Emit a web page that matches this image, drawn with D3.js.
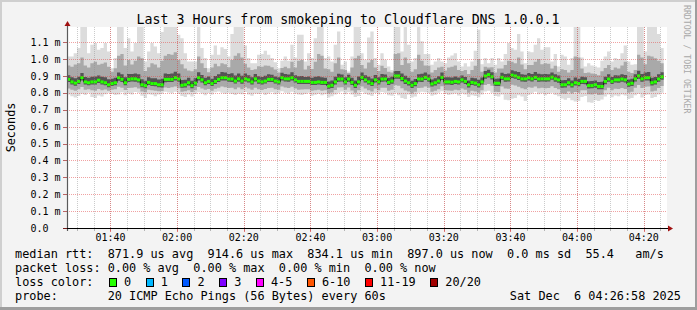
<!DOCTYPE html>
<html><head><meta charset="utf-8">
<script src="https://cdn.jsdelivr.net/npm/d3@7"></script>
<style>
body{margin:0;background:#f3f3f3}
svg{display:block}
text{font-family:"DejaVu Sans Mono",monospace;fill:#000}
</style>
</head><body>
<svg id="chart" width="697" height="310"></svg>
<script>
// ---------------- data ----------------
const startTime = new Date(2025, 11, 6, 1, 26, 58);
const endTime = new Date(2025, 11, 6, 4, 26, 58);
const stepSeconds = 60;

const medianRtt = [
0.880,0.865,0.858,0.868,0.890,0.865,0.860,0.865,0.865,0.875,
0.865,0.860,0.848,0.855,0.860,0.890,0.880,0.860,0.880,0.883,
0.883,0.877,0.848,0.843,0.862,0.855,0.855,0.848,0.848,0.880,
0.880,0.880,0.890,0.882,0.845,0.848,0.860,0.843,0.858,0.890,
0.877,0.860,0.868,0.855,0.868,0.880,0.890,0.890,0.882,0.882,
0.870,0.883,0.870,0.883,0.877,0.865,0.883,0.870,0.865,0.870,
0.880,0.880,0.870,0.865,0.890,0.883,0.883,0.890,0.877,0.868,
0.868,0.868,0.868,0.862,0.862,0.865,0.862,0.862,0.840,0.845,
0.865,0.882,0.882,0.865,0.882,0.862,0.845,0.865,0.892,0.877,
0.865,0.855,0.877,0.865,0.882,0.882,0.862,0.870,0.900,0.900,
0.885,0.870,0.860,0.845,0.855,0.882,0.882,0.892,0.882,0.853,
0.860,0.870,0.892,0.865,0.865,0.863,0.868,0.865,0.877,0.868,
0.848,0.862,0.858,0.848,0.865,0.900,0.908,0.895,0.857,0.857,
0.892,0.883,0.883,0.905,0.900,0.892,0.883,0.883,0.890,0.883,
0.892,0.882,0.883,0.883,0.883,0.893,0.883,0.877,0.848,0.848,
0.860,0.848,0.860,0.855,0.868,0.868,0.843,0.843,0.848,0.838,
0.838,0.868,0.882,0.868,0.877,0.877,0.882,0.877,0.852,0.857,
0.883,0.900,0.883,0.890,0.890,0.860,0.865,0.882,0.895];

const maxRtt = [
1.015,1.015,1.035,1.065,1.190,1.190,1.035,1.085,1.095,1.055,
1.065,1.095,1.045,0.946,1.006,1.190,1.190,1.065,1.124,1.045,
1.095,1.190,1.190,0.986,1.045,1.095,1.075,1.035,1.160,1.190,
1.190,1.190,1.190,1.144,1.124,1.035,0.986,0.986,0.986,1.190,
1.065,1.006,0.946,1.026,1.080,1.026,1.070,1.060,1.015,1.148,
1.190,1.190,1.190,1.080,1.006,0.976,0.976,1.026,1.030,1.050,
1.026,1.006,0.982,0.946,0.990,1.015,0.990,1.085,1.010,1.144,
1.144,0.986,1.035,1.006,1.124,1.190,1.190,1.006,1.015,0.986,
1.085,1.163,0.966,0.986,0.926,1.015,1.190,1.190,1.035,0.996,
1.128,1.163,1.006,0.966,1.035,0.996,0.956,0.936,1.190,1.190,
1.045,1.190,1.085,0.986,1.006,1.190,1.105,1.030,1.030,0.966,
0.986,1.006,0.986,0.976,1.010,1.022,1.035,0.986,0.956,0.976,
0.956,0.986,1.050,1.173,0.970,1.006,0.976,1.006,0.966,1.006,
0.986,1.030,1.095,1.065,1.055,1.148,1.045,0.976,1.045,1.040,
1.085,1.124,1.055,1.070,1.070,0.986,1.030,0.956,1.026,1.015,
0.966,1.006,1.190,1.190,1.010,0.956,0.976,0.962,0.956,0.950,
0.990,1.015,1.045,0.986,1.006,1.000,1.035,1.080,0.986,0.966,
0.970,1.190,1.190,1.045,1.190,1.190,1.190,1.148,1.065];

const p90Rtt = [
0.962,0.955,0.968,0.975,1.010,0.962,0.950,0.975,0.985,0.966,
0.972,0.980,0.955,0.925,0.946,1.020,1.030,0.962,0.995,0.968,
0.990,1.015,1.005,0.930,0.952,0.975,0.968,0.950,0.990,1.020,
1.030,1.025,1.040,0.995,0.970,0.945,0.932,0.928,0.940,1.015,
0.975,0.948,0.922,0.950,0.972,0.958,0.975,0.970,0.952,0.995,
1.020,1.035,1.010,0.972,0.950,0.935,0.940,0.958,0.955,0.962,
0.960,0.952,0.938,0.920,0.948,0.955,0.946,0.985,0.950,0.990,
0.995,0.938,0.960,0.942,0.985,1.030,1.020,0.945,0.940,0.925,
0.975,1.010,0.940,0.935,0.918,0.950,1.005,1.020,0.965,0.945,
0.980,0.995,0.950,0.930,0.960,0.948,0.925,0.920,1.030,1.035,
0.965,1.010,0.975,0.925,0.940,1.025,0.990,0.962,0.960,0.920,
0.935,0.950,0.955,0.932,0.950,0.955,0.962,0.935,0.930,0.935,
0.912,0.935,0.960,1.000,0.925,0.955,0.950,0.952,0.920,0.945,
0.945,0.965,0.990,0.985,0.975,1.010,0.968,0.940,0.965,0.965,
0.985,1.000,0.970,0.975,0.972,0.945,0.960,0.925,0.940,0.935,
0.920,0.935,1.015,1.010,0.945,0.918,0.920,0.915,0.912,0.905,
0.928,0.948,0.965,0.935,0.950,0.945,0.962,0.985,0.925,0.918,
0.935,1.025,1.010,0.970,1.020,1.015,1.005,0.990,0.975];

const p75Rtt = [
0.905,0.892,0.887,0.896,0.918,0.894,0.890,0.896,0.897,0.903,
0.895,0.893,0.880,0.883,0.889,0.921,0.910,0.893,0.912,0.912,
0.915,0.910,0.881,0.872,0.893,0.886,0.887,0.879,0.884,0.915,
0.912,0.914,0.925,0.914,0.876,0.877,0.889,0.872,0.887,0.922,
0.906,0.890,0.897,0.884,0.900,0.911,0.923,0.921,0.912,0.916,
0.903,0.915,0.902,0.914,0.905,0.893,0.912,0.899,0.894,0.901,
0.910,0.908,0.897,0.892,0.919,0.912,0.909,0.922,0.905,0.899,
0.900,0.894,0.897,0.890,0.895,0.898,0.893,0.889,0.868,0.874,
0.896,0.913,0.909,0.893,0.908,0.889,0.874,0.897,0.921,0.905,
0.896,0.885,0.906,0.893,0.912,0.909,0.889,0.896,0.930,0.929,
0.914,0.902,0.889,0.872,0.882,0.911,0.913,0.920,0.909,0.879,
0.887,0.898,0.920,0.892,0.893,0.891,0.897,0.891,0.903,0.894,
0.874,0.889,0.886,0.877,0.891,0.929,0.937,0.922,0.884,0.885,
0.919,0.912,0.915,0.934,0.928,0.923,0.911,0.908,0.918,0.912,
0.923,0.913,0.910,0.912,0.911,0.921,0.910,0.903,0.875,0.876,
0.887,0.874,0.891,0.883,0.895,0.893,0.869,0.870,0.874,0.864,
0.866,0.896,0.910,0.894,0.905,0.903,0.911,0.906,0.879,0.884,
0.910,0.931,0.912,0.920,0.923,0.889,0.894,0.911,0.922];

const p25Rtt = [
0.864,0.849,0.842,0.852,0.873,0.850,0.845,0.850,0.849,0.858,
0.850,0.845,0.834,0.840,0.845,0.872,0.864,0.845,0.864,0.867,
0.866,0.861,0.833,0.828,0.846,0.840,0.839,0.833,0.832,0.863,
0.864,0.865,0.873,0.866,0.830,0.832,0.844,0.828,0.842,0.873,
0.861,0.845,0.852,0.840,0.853,0.864,0.873,0.874,0.866,0.865,
0.855,0.866,0.854,0.867,0.861,0.849,0.867,0.854,0.850,0.855,
0.864,0.865,0.855,0.850,0.873,0.867,0.866,0.874,0.861,0.852,
0.853,0.852,0.853,0.846,0.847,0.850,0.846,0.847,0.824,0.829,
0.849,0.866,0.867,0.850,0.866,0.847,0.829,0.849,0.876,0.861,
0.849,0.840,0.861,0.849,0.866,0.867,0.846,0.854,0.884,0.883,
0.869,0.853,0.844,0.829,0.839,0.866,0.865,0.876,0.866,0.837,
0.844,0.854,0.876,0.849,0.850,0.847,0.852,0.849,0.861,0.852,
0.832,0.846,0.842,0.832,0.849,0.884,0.891,0.879,0.841,0.840,
0.876,0.866,0.867,0.888,0.884,0.876,0.867,0.866,0.874,0.867,
0.876,0.866,0.867,0.866,0.867,0.877,0.866,0.860,0.831,0.832,
0.844,0.832,0.843,0.839,0.852,0.851,0.826,0.827,0.831,0.821,
0.822,0.851,0.866,0.852,0.861,0.860,0.866,0.861,0.836,0.841,
0.867,0.883,0.866,0.874,0.873,0.843,0.849,0.866,0.878];

const p10Rtt = [
0.826,0.818,0.812,0.821,0.835,0.819,0.822,0.815,0.812,0.823,
0.816,0.820,0.812,0.818,0.821,0.836,0.830,0.817,0.829,0.831,
0.834,0.826,0.808,0.803,0.819,0.815,0.812,0.810,0.811,0.832,
0.829,0.833,0.838,0.828,0.806,0.809,0.815,0.805,0.816,0.835,
0.826,0.818,0.823,0.812,0.825,0.831,0.838,0.834,0.829,0.830,
0.822,0.832,0.821,0.833,0.826,0.818,0.830,0.822,0.817,0.823,
0.829,0.831,0.822,0.818,0.838,0.832,0.829,0.836,0.826,0.819,
0.820,0.822,0.821,0.813,0.815,0.818,0.812,0.816,0.797,0.802,
0.817,0.832,0.834,0.818,0.832,0.814,0.801,0.815,0.838,0.826,
0.815,0.808,0.826,0.816,0.830,0.831,0.813,0.819,0.845,0.842,
0.828,0.814,0.808,0.796,0.806,0.829,0.831,0.838,0.830,0.806,
0.812,0.821,0.839,0.816,0.814,0.813,0.819,0.816,0.826,0.818,
0.800,0.813,0.808,0.800,0.815,0.846,0.852,0.842,0.806,0.805,
0.838,0.826,0.824,0.848,0.843,0.836,0.827,0.822,0.834,0.830,
0.838,0.828,0.831,0.828,0.829,0.839,0.829,0.822,0.797,0.795,
0.808,0.796,0.805,0.800,0.815,0.816,0.792,0.790,0.797,0.787,
0.789,0.815,0.830,0.816,0.824,0.823,0.829,0.823,0.801,0.806,
0.830,0.846,0.829,0.836,0.837,0.808,0.813,0.829,0.841];

const minRtt = [
0.790,0.780,0.772,0.781,0.795,0.788,0.800,0.776,0.770,0.784,
0.779,0.792,0.801,0.795,0.788,0.790,0.804,0.786,0.797,0.791,
0.805,0.800,0.783,0.770,0.792,0.789,0.780,0.791,0.795,0.807,
0.802,0.798,0.806,0.794,0.781,0.775,0.790,0.778,0.793,0.803,
0.797,0.786,0.799,0.791,0.803,0.808,0.801,0.795,0.800,0.794,
0.788,0.796,0.792,0.805,0.790,0.783,0.797,0.793,0.801,0.787,
0.796,0.803,0.792,0.798,0.809,0.801,0.795,0.806,0.797,0.790,
0.788,0.794,0.800,0.783,0.789,0.795,0.786,0.792,0.773,0.780,
0.790,0.801,0.808,0.792,0.804,0.790,0.776,0.781,0.806,0.795,
0.788,0.782,0.799,0.790,0.805,0.800,0.786,0.783,0.800,0.786,
0.770,0.763,0.790,0.772,0.779,0.800,0.806,0.803,0.798,0.783,
0.789,0.800,0.809,0.795,0.788,0.792,0.797,0.785,0.798,0.790,
0.776,0.786,0.782,0.774,0.790,0.808,0.812,0.800,0.781,0.778,
0.790,0.760,0.757,0.765,0.770,0.786,0.778,0.752,0.788,0.796,
0.806,0.792,0.798,0.786,0.793,0.801,0.788,0.780,0.766,0.760,
0.770,0.757,0.749,0.752,0.776,0.781,0.745,0.742,0.756,0.752,
0.761,0.778,0.790,0.774,0.785,0.780,0.791,0.784,0.763,0.770,
0.786,0.795,0.772,0.788,0.791,0.770,0.775,0.790,0.800];

const yTickValues = [0.0,0.1,0.2,0.3,0.4,0.5,0.6,0.7,0.8,0.9,1.0,1.1];
const yTickLabels = ["0.0","0.1 m","0.2 m","0.3 m","0.4 m","0.5 m","0.6 m","0.7 m","0.8 m","0.9 m","1.0 m","1.1 m"];
const yMax = 1.19;

const titleText = "Last 3 Hours from smokeping to Cloudflare DNS 1.0.0.1";
const yAxisTitle = "Seconds";
const sideText = "RRDTOOL / TOBI OETIKER";
const statLines = [
  "median rtt:  871.9 us avg  914.6 us max  834.1 us min  897.0 us now  0.0 ms sd  55.4   am/s",
  "packet loss: 0.00 % avg  0.00 % max  0.00 % min  0.00 % now"
];
const lossTitle = "loss color:";
const lossLabels = ["0","1","2","3","4-5","6-10","11-19","20/20"];
const lossColors = ["#26ff00","#00b8ff","#0059ff","#7e00ff","#ff00ff","#ff5500","#ff0000","#a10000"];
const probeLine = "probe:       20 ICMP Echo Pings (56 Bytes) every 60s";
const dateText = "Sat Dec  6 04:26:58 2025";

// ---------------- layout ----------------
const W = 697, H = 310;
const plotL = 67, plotR = 667, plotT = 27, plotB = 228;
const svg = d3.select("#chart");

svg.append("rect").attr("width", W).attr("height", H).attr("fill", "#f3f3f3");
svg.append("rect").attr("x",0).attr("y",0).attr("width",W).attr("height",2).attr("fill","#cfcfcf");
svg.append("rect").attr("x",0).attr("y",0).attr("width",2).attr("height",H).attr("fill","#cfcfcf");
svg.append("rect").attr("x",0).attr("y",H-3).attr("width",W).attr("height",3).attr("fill","#9e9e9e");
svg.append("rect").attr("x",W-2).attr("y",0).attr("width",2).attr("height",H).attr("fill","#9e9e9e");

const x = d3.scaleTime().domain([startTime, endTime]).range([plotL, plotR]);
const y = d3.scaleLinear().domain([0, yMax]).range([plotB, plotT]);

svg.append("rect").attr("x", plotL).attr("y", plotT).attr("width", plotR - plotL).attr("height", plotB - plotT).attr("fill", "#fff");

svg.append("clipPath").attr("id","pc").append("rect")
  .attr("x", plotL).attr("y", plotT).attr("width", plotR - plotL).attr("height", plotB - plotT);

const n = medianRtt.length;
const tAt = i => new Date(startTime.getTime() + i * stepSeconds * 1000);
const idx = d3.range(n + 1);
const val = (arr, i) => arr[Math.min(i, n - 1)];

const g = svg.append("g").attr("clip-path", "url(#pc)");
const bands = [
  [minRtt, maxRtt, "#dcdcdc"],
  [p10Rtt, p90Rtt, "#a9a9a9"],
  [p25Rtt, p75Rtt, "#545454"]
];
bands.forEach(([lo, hi, c]) => {
  const area = d3.area()
    .x(i => x(tAt(i)))
    .y0(i => y(val(lo, i)))
    .y1(i => y(val(hi, i)))
    .curve(d3.curveStepAfter);
  g.append("path").datum(idx).attr("d", area).attr("fill", c);
});

// grid
const minorTimes = d3.timeMinute.every(5).range(startTime, endTime);
const majorTimes = d3.timeMinute.every(20).range(startTime, endTime);
const gridG = svg.append("g");
minorTimes.forEach(t => {
  const px = Math.round(x(t)) + 0.5;
  gridG.append("line").attr("x1", px).attr("x2", px).attr("y1", plotT).attr("y2", plotB)
    .attr("stroke", "rgba(140,140,140,0.45)").attr("stroke-dasharray", "1,1");
});
majorTimes.forEach(t => {
  const px = Math.round(x(t)) + 0.5;
  gridG.append("line").attr("x1", px).attr("x2", px).attr("y1", plotT).attr("y2", plotB)
    .attr("stroke", "rgba(225,70,70,0.5)").attr("stroke-dasharray", "1,1");
});
yTickValues.forEach(v => {
  if (v === 0) return;
  const py = Math.round(y(v)) + 0.5;
  gridG.append("line").attr("x1", plotL).attr("x2", plotR).attr("y1", py).attr("y2", py)
    .attr("stroke", "rgba(225,70,70,0.5)").attr("stroke-dasharray", "1,1");
});

// median line
const medLine = d3.line().x(i => x(tAt(i))).y(i => y(val(medianRtt, i))).curve(d3.curveStepAfter);
g.append("path").datum(idx).attr("d", medLine).attr("fill", "none").attr("stroke", "#111").attr("stroke-width", 1);
g.selectAll("line.med").data(d3.range(n)).join("line").attr("class","med")
  .attr("x1", i => x(tAt(i))).attr("x2", i => x(tAt(i + 1)))
  .attr("y1", i => y(medianRtt[i])).attr("y2", i => y(medianRtt[i]))
  .attr("stroke", lossColors[0]).attr("stroke-width", 3);

// axes
svg.append("line").attr("x1", plotL + 0.5).attr("x2", plotL + 0.5).attr("y1", plotB + 3).attr("y2", plotT - 3)
  .attr("stroke", "#5a5a5a").attr("stroke-width", 1.2);
svg.append("line").attr("x1", plotL - 4).attr("x2", plotR + 2).attr("y1", plotB + 0.5).attr("y2", plotB + 0.5)
  .attr("stroke", "#000").attr("stroke-width", 1);
svg.append("path").attr("d", `M${plotL - 2.5},${plotT - 1} L${plotL + 3.5},${plotT - 1} L${plotL + 0.5},${plotT - 6} Z`).attr("fill", "#a01010");
svg.append("path").attr("d", `M${plotR + 1},${plotB - 2.5} L${plotR + 1},${plotB + 3.5} L${plotR + 6},${plotB + 0.5} Z`).attr("fill", "#a01010");

// ticks
minorTimes.forEach(t => {
  const px = Math.round(x(t)) + 0.5;
  svg.append("line").attr("x1", px).attr("x2", px).attr("y1", plotB + 1).attr("y2", plotB + 3)
    .attr("stroke", "rgba(140,140,140,0.6)");
});
majorTimes.forEach(t => {
  const px = Math.round(x(t)) + 0.5;
  svg.append("line").attr("x1", px).attr("x2", px).attr("y1", plotB + 1).attr("y2", plotB + 4)
    .attr("stroke", "rgba(225,70,70,0.7)");
});
yTickValues.forEach(v => {
  const py = Math.round(y(v)) + 0.5;
  svg.append("line").attr("x1", plotL - 4).attr("x2", plotL).attr("y1", py).attr("y2", py)
    .attr("stroke", "rgba(160,40,40,0.7)");
});

// tick labels
majorTimes.forEach(t => {
  svg.append("text").attr("x", x(t)).attr("y", 241).attr("text-anchor", "middle")
    .attr("font-size", "10px").text(d3.timeFormat("%H:%M")(t));
});
yTickValues.forEach((v, k) => {
  svg.append("text").attr("x", 30.5).attr("y", y(v) + 3.6).attr("font-size", "10px")
    .style("white-space", "pre").text(yTickLabels[k]);
});

// titles
svg.append("text").attr("x", 348).attr("y", 24).attr("text-anchor", "middle")
  .attr("font-size", "13.25px").text(titleText);
svg.append("text").attr("transform", `translate(15,${(plotT + plotB) / 2}) rotate(-90)`)
  .attr("text-anchor", "middle").attr("font-size", "11.8px").text(yAxisTitle);
svg.append("text").attr("transform", "translate(684,5) rotate(90)")
  .attr("font-size", "8.2px").style("fill", "#a8a8a8").text(sideText);

// legend
const lx = 15, fs = "11.85px", cw = 7.13;
const lineY = [258.3, 272.2, 286.1, 300];
statLines.forEach((s, k) => {
  svg.append("text").attr("x", lx).attr("y", lineY[k]).attr("font-size", fs)
    .attr("xml:space", "preserve").style("white-space", "pre").text(s);
});
svg.append("text").attr("x", lx).attr("y", lineY[2]).attr("font-size", fs).text(lossTitle);
let bx = lx + 13 * cw + 1.3;
lossLabels.forEach((lab, k) => {
  svg.append("rect").attr("x", Math.round(bx) + 0.5).attr("y", 278.5).attr("width", 7).attr("height", 8)
    .attr("fill", lossColors[k]).attr("stroke", "#000").attr("stroke-width", 1);
  const tx = bx + 15;
  svg.append("text").attr("x", tx).attr("y", lineY[2]).attr("font-size", fs).text(lab);
  bx = tx + lab.length * cw + 14.6;
});
svg.append("text").attr("x", lx).attr("y", lineY[3]).attr("font-size", fs)
  .attr("xml:space", "preserve").style("white-space", "pre").text(probeLine);
svg.append("text").attr("x", 681).attr("y", lineY[3]).attr("font-size", fs).attr("text-anchor", "end")
  .attr("xml:space", "preserve").style("white-space", "pre").text(dateText);
</script>
</body></html>
